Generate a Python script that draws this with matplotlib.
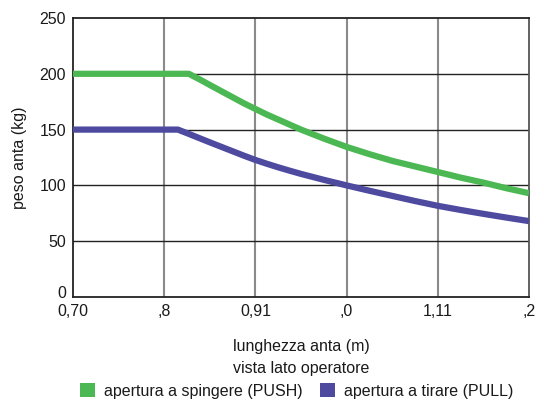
import matplotlib
matplotlib.use("Agg")
import matplotlib.pyplot as plt
import matplotlib.transforms as mtransforms
from matplotlib.patches import Patch

plt.rcParams['font.family'] = ['Liberation Sans', 'DejaVu Sans']

x_ticks = [0.70, 0.80, 0.90, 1.00, 1.10, 1.20]
x_labels = ["0,70", ",8", "0,91", ",0", "1,11", ",2"]
y_ticks = [0, 50, 100, 150, 200, 250]

push_x = [0.70, 0.827, 0.84, 0.85, 0.8625, 0.875, 0.8875, 0.90, 0.9125, 0.925, 0.9375, 0.95, 0.975,
          1.00, 1.025, 1.05, 1.075, 1.10, 1.125, 1.15, 1.175, 1.20]
push_y = [200, 200, 194.5, 190, 184.5, 179, 173.5, 168.5, 163.5, 159, 154.5, 150, 142,
          134.5, 128, 122, 117, 112, 107, 102.5, 97.5, 93]
pull_x = [0.70, 0.815, 0.825, 0.8375, 0.85, 0.8625, 0.875, 0.8875, 0.90, 0.9125, 0.925, 0.9375,
          0.95, 0.975, 1.00, 1.025, 1.05, 1.075, 1.10, 1.125, 1.15, 1.175, 1.20]
pull_y = [150, 150, 146.8, 142.7, 138.6, 134.6, 130.6, 126.6, 122.8, 119.4, 116.2, 113.2,
          110.3, 105, 100, 95.2, 90.6, 86, 81.7, 78, 74.5, 71.2, 68]

green = "#4cb853"
blue = "#4e4a9f"

fig = plt.figure(figsize=(5.44, 4.0), dpi=100)
ax = fig.add_axes([73/544, 1 - 297/400, (529-73)/544, (297-18)/400])

ax.set_xlim(0.70, 1.20)
ax.set_ylim(0, 250)
ax.set_xticks(x_ticks)
ax.set_xticklabels(x_labels)
ax.set_yticks(y_ticks)
ax.tick_params(length=0, labelsize=11.5, pad=5, labelcolor="#1a1a1a")

# the "0" label sits slightly above the axis in the reference
lbl0 = ax.get_yticklabels()[0]
lbl0.set_transform(lbl0.get_transform() + mtransforms.ScaledTranslation(0, 5/100, fig.dpi_scale_trans))

for xv in x_ticks[1:-1]:
    ax.axvline(xv, color="#8a8a8a", lw=1.5, zorder=1)
for yv in y_ticks[1:-1]:
    ax.axhline(yv, color="#222222", lw=1.0, zorder=1)

ax.plot(push_x, push_y, color=green, lw=4.5, solid_capstyle='butt', solid_joinstyle='round', zorder=3)
ax.plot(pull_x, pull_y, color=blue, lw=4.5, solid_capstyle='butt', solid_joinstyle='round', zorder=3)

for s in ['left', 'top', 'bottom']:
    ax.spines[s].set_color("#222222")
    ax.spines[s].set_linewidth(1.3)
ax.spines['right'].set_color("#555555")
ax.spines['right'].set_linewidth(1.3)

ax.set_ylabel("peso anta (kg)", fontsize=11.5, labelpad=9, color="#1a1a1a")
fig.text(301/544, 1 - 347/400, "lunghezza anta (m)", ha='center', va='center', fontsize=11.5, color="#1a1a1a")
fig.text(301/544, 1 - 369/400, "vista lato operatore", ha='center', va='center', fontsize=11.5, color="#1a1a1a")

handles = [Patch(facecolor=green, edgecolor='none'), Patch(facecolor=blue, edgecolor='none')]
fig.legend(handles, ["apertura a spingere (PUSH)", "apertura a tirare (PULL)"],
           loc='center', bbox_to_anchor=(297/544, 1 - 391/400), ncol=2, frameon=False,
           fontsize=11.5, handlelength=0.9, handleheight=0.9, handletextpad=0.6,
           columnspacing=1.1, borderpad=0, labelcolor="#1a1a1a")

fig.savefig("out.png", dpi=100)
